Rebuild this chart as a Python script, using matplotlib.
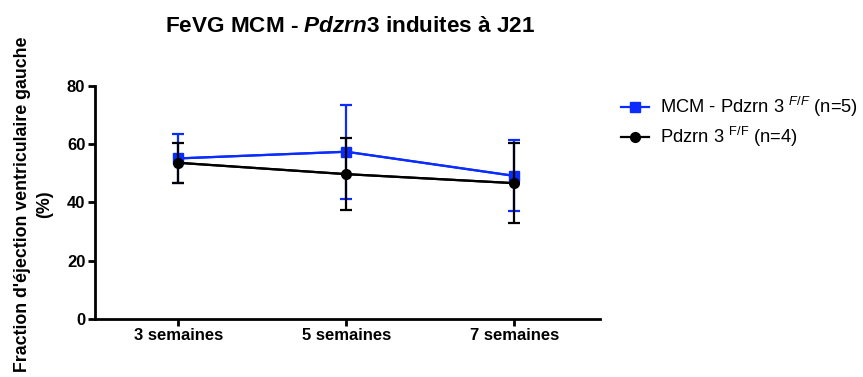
import numpy as np
import matplotlib.pyplot as plt

plt.rcParams['font.family'] = ['Liberation Sans', 'DejaVu Sans']
plt.rcParams['mathtext.fontset'] = 'custom'
plt.rcParams['mathtext.rm'] = 'Liberation Sans'
plt.rcParams['mathtext.it'] = 'Liberation Sans:italic'
plt.rcParams['mathtext.bf'] = 'Liberation Sans:bold'
plt.rcParams['mathtext.bfit'] = 'Liberation Sans:italic:bold'

weeks = ['3 semaines', '5 semaines', '7 semaines']

# mean and SD of the ejection fraction (%)
mcm_mean = [55.1, 57.4, 49.1]
mcm_sd = [8.5, 16.2, 12.2]
ctrl_mean = [53.6, 49.7, 46.6]
ctrl_sd = [6.9, 12.3, 13.8]

blue = '#0a2cff'
x = np.arange(len(weeks))

fig = plt.figure(figsize=(8.63, 3.77), dpi=100)
ax = fig.add_axes([95 / 863, 1 - 318.7 / 377, 505 / 863, 232.7 / 377])

ax.errorbar(x, mcm_mean, yerr=mcm_sd, color=blue, lw=1.6, elinewidth=1.6,
            capsize=4, capthick=1.6, zorder=2)
l1, = ax.plot(x, mcm_mean, color=blue, lw=1.6, marker='s', ms=7, zorder=3,
              label=r'MCM - Pdzrn 3 $^{F/F}$ (n=5)')
ax.errorbar(x, ctrl_mean, yerr=ctrl_sd, color='black', lw=1.6, elinewidth=1.6,
            capsize=4, capthick=1.6, zorder=4)
l2, = ax.plot(x, ctrl_mean, color='black', lw=1.6, marker='o', ms=7, zorder=5,
              label=r'Pdzrn 3 $^{\mathrm{F/F}}$ (n=4)')

ax.set_xlim(-0.495, 2.51)
ax.set_ylim(0, 80)
ax.set_yticks([0, 20, 40, 60, 80])
ax.set_xticks(x)
ax.set_xticklabels(weeks, fontweight='bold', fontsize=12)
for lab in ax.get_yticklabels():
    lab.set_fontweight('bold')
    lab.set_fontsize(12)

for s in ['top', 'right']:
    ax.spines[s].set_visible(False)
for s in ['left', 'bottom']:
    ax.spines[s].set_linewidth(2)
ax.tick_params(width=2, length=5, direction='out', pad=2)

ax.set_ylabel("Fraction d'éjection ventriculaire gauche\n(%)",
              fontweight='bold', fontsize=12.8, linespacing=1.4)
ax.yaxis.set_label_coords(-0.083, 0.492)

fig.text(350 / 863, 1 - 27 / 377, r'FeVG MCM - $\mathbfit{Pdzrn}$3 induites à J21',
         ha='center', va='center', fontsize=16.2, fontweight='bold')

fig.legend(handles=[l1, l2], loc='upper left', bbox_to_anchor=(614 / 863, 1 - 88 / 377),
           frameon=False, fontsize=13.2, handlelength=1.5, handletextpad=0.6,
           labelspacing=0.3, borderaxespad=0)

fig.savefig('out.png', dpi=100)
